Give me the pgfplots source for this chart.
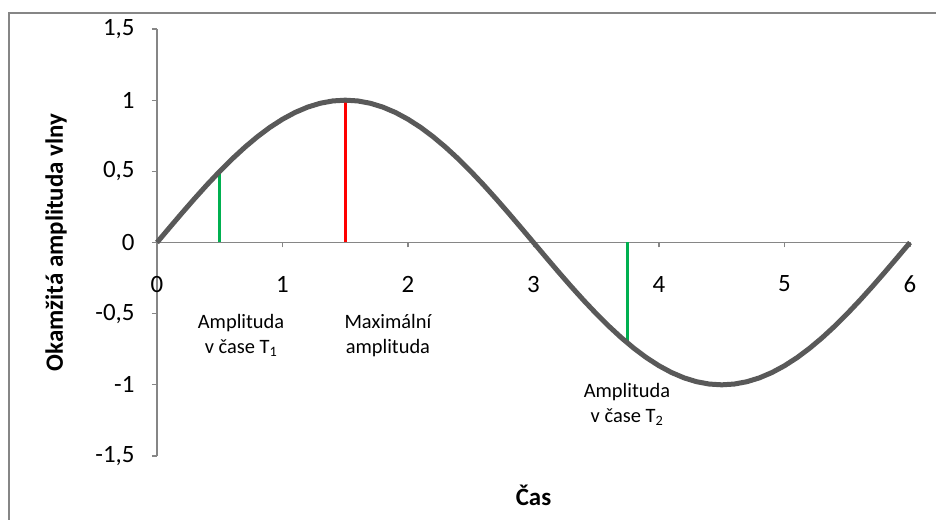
\documentclass[border=0pt]{standalone}
\usepackage{fontspec}
\setmainfont{Carlito}
\usepackage{pgfplots}
\pgfplotsset{compat=1.18}
\definecolor{curve}{RGB}{89,89,89}
\definecolor{axgray}{RGB}{134,134,134}
\definecolor{xlgreen}{RGB}{0,176,80}
\begin{document}
\begin{tikzpicture}
\begin{axis}[
  scale only axis, width=753bp, height=427bp,
  xmin=0, xmax=6, ymin=-1.5, ymax=1.5,
  axis x line=middle, axis y line=left,
  hide obscured x ticks=false,
  axis line style={axgray, line width=1.2bp, -},
  xtick={0,1,2,3,4,5,6}, ytick={-1.5,-1,-0.5,0,0.5,1,1.5},
  tick align=outside, major tick length=5bp,
  tick style={axgray, line width=1.2bp},
  tick label style={font=\fontsize{25}{25}\selectfont},
  /pgf/number format/assume math mode=true,
  /pgf/number format/use comma,
  yticklabel style={xshift=-14bp},
  xticklabel style={yshift=-25bp},
  every axis y label/.style={at={([xshift=-101bp]axis description cs:0,0.5)}, rotate=90, anchor=center, font=\bfseries\fontsize{25}{25}\selectfont},
  every axis x label/.style={at={([yshift=-39bp]axis description cs:0.5,0)}, anchor=center, font=\bfseries\fontsize{25}{25}\selectfont},
  ylabel={Okamžitá amplituda vlny},
  xlabel={Čas},
  clip=false,
]
\addplot[xlgreen, line width=3bp] coordinates {(0.5,0) (0.5,0.5)};
\addplot[red, line width=3bp] coordinates {(1.5,0) (1.5,1)};
\addplot[xlgreen, line width=3bp] coordinates {(3.75,0) (3.75,-0.7071)};
\addplot[curve, line width=5bp, line join=round] table {
x y
0 0
0.1 0.10453
0.2 0.20791
0.3 0.30902
0.4 0.40674
0.5 0.5
0.6 0.58779
0.7 0.66913
0.8 0.74314
0.9 0.80902
1.0 0.86603
1.1 0.91355
1.2 0.95106
1.3 0.97815
1.4 0.99452
1.5 1
1.6 0.99452
1.7 0.97815
1.8 0.95106
1.9 0.91355
2.0 0.86603
2.1 0.80902
2.2 0.74314
2.3 0.66913
2.4 0.58779
2.5 0.5
2.6 0.40674
2.7 0.30902
2.8 0.20791
2.9 0.10453
3.0 0
3.1 -0.10453
3.2 -0.20791
3.3 -0.30902
3.4 -0.40674
3.5 -0.5
3.6 -0.58779
3.7 -0.66913
3.8 -0.74314
3.9 -0.80902
4.0 -0.86603
4.1 -0.91355
4.2 -0.95106
4.3 -0.97815
4.4 -0.99452
4.5 -1
4.6 -0.99452
4.7 -0.97815
4.8 -0.95106
4.9 -0.91355
5.0 -0.86603
5.1 -0.80902
5.2 -0.74314
5.3 -0.66913
5.4 -0.58779
5.5 -0.5
5.6 -0.40674
5.7 -0.30902
5.8 -0.20791
5.9 -0.10453
6.0 0
};
\node[align=center, font=\fontsize{20.5}{25}\selectfont] at (axis cs:0.67,-0.654) {Amplituda\\v čase T\textsubscript{1}};
\node[align=center, font=\fontsize{20.5}{25}\selectfont] at (axis cs:1.84,-0.654) {Maximální\\amplituda};
\node[align=center, font=\fontsize{20.5}{25}\selectfont] at (axis cs:3.745,-1.135) {Amplituda\\v čase T\textsubscript{2}};
\end{axis}
\draw[axgray, line width=2bp] ([shift={(-148bp,-80bp)}]current axis.south west) -- ([shift={(-148bp,443bp)}]current axis.south west) -- ([shift={(800bp,443bp)}]current axis.south west);
\pgfresetboundingbox
\path[use as bounding box] ([shift={(-157bp,-64bp)}]current axis.south west) rectangle ([shift={(779bp,456bp)}]current axis.south west);
\end{tikzpicture}
\end{document}
